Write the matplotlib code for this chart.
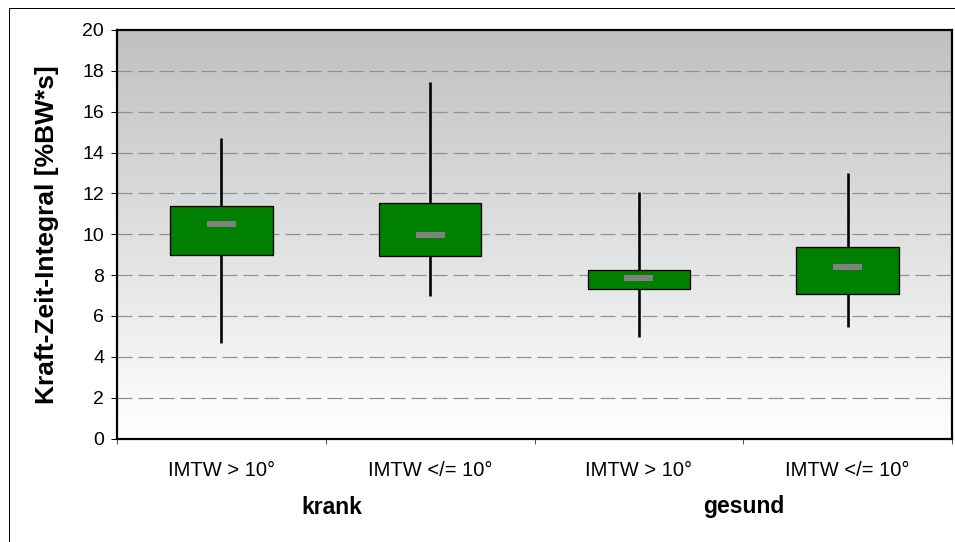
import numpy as np
import matplotlib
matplotlib.use("Agg")
import matplotlib.pyplot as plt
from matplotlib.patches import Rectangle, FancyBboxPatch
from matplotlib.colors import LinearSegmentedColormap
from matplotlib.transforms import blended_transform_factory

plt.rcParams['font.family'] = ['Liberation Sans', 'DejaVu Sans']
plt.rcParams['lines.scale_dashes'] = False

# Per-category statistics
categories = ["IMTW > 10°", "IMTW </= 10°", "IMTW > 10°", "IMTW </= 10°"]
groups = ["krank", "gesund"]
whisker_low = [4.66, 6.96, 4.95, 5.44]
q1 = [8.97, 8.92, 7.30, 7.06]
median = [10.49, 9.95, 7.84, 8.38]
q3 = [11.37, 11.52, 8.24, 9.36]
whisker_high = [14.70, 17.45, 12.06, 13.00]
y_ticks = [0, 2, 4, 6, 8, 10, 12, 14, 16, 18, 20]

PX = 72 / 100  # points per pixel at 100 dpi

fig = plt.figure(figsize=(9.55, 5.42), dpi=100)
ax = fig.add_axes([117 / 955, 1 - 438.5 / 542, (952 - 117) / 955, (438.5 - 30) / 542])

n = len(categories)
ax.set_xlim(-0.5, n - 0.5)
ax.set_ylim(0, 20)

# Vertical grey-to-white gradient background
grad = np.linspace(0, 1, 256).reshape(-1, 1)
cmap = LinearSegmentedColormap.from_list("bg", ["#ffffff", "#c0c0c0"])
ax.imshow(grad, aspect="auto", cmap=cmap, extent=(-0.5, n - 0.5, 0, 20),
          origin="lower", zorder=0, interpolation="bilinear")

# Dashed horizontal grid lines
for y in y_ticks[1:-1]:
    ax.axhline(y, color="#8f8f8f", lw=1.2 * PX, dashes=(15 * PX, 6 * PX), zorder=1)

box_w = 0.49
med_w = 0.14
for i in range(n):
    ax.vlines(i, whisker_low[i], whisker_high[i], color="black", lw=2.6 * PX, zorder=2)
    ax.add_patch(Rectangle((i - box_w / 2, q1[i]), box_w, q3[i] - q1[i],
                           facecolor="#008000", edgecolor="black", lw=1.3 * PX, zorder=3))
    ax.plot([i - med_w / 2, i + med_w / 2], [median[i], median[i]], color="#808080",
            lw=6 * PX, solid_capstyle="butt", zorder=4)

for s in ax.spines.values():
    s.set_linewidth(2.2 * PX)
    s.set_color("black")

ax.set_yticks(y_ticks)
ax.tick_params(axis="y", direction="out", length=6 * PX, width=1 * PX, pad=7 * PX,
               labelsize=14)

# Category boundaries as major ticks; labels placed at category centres
ax.set_xticks(np.arange(-0.5, n, 1.0))
ax.set_xticklabels([])
ax.tick_params(axis="x", which="major", direction="out", length=5 * PX, width=1 * PX,
               color="#555555")
ax.set_xticks(np.arange(n), minor=True)
ax.set_xticklabels(categories, minor=True)
ax.tick_params(axis="x", which="minor", length=0, pad=22 * PX, labelsize=14.5)

trans = blended_transform_factory(ax.transData, fig.transFigure)
for g, name in enumerate(groups):
    ax.text(g * 2 + 0.5 + (0.03 if g == 0 else 0.0), 1 - 507 / 542, name,
            transform=trans, ha="center", va="center", fontsize=16.5, fontweight="bold")

fig.text(47 / 955, 1 - 235 / 542, "Kraft-Zeit-Integral [%BW*s]", rotation=90,
         ha="center", va="center", fontsize=19, fontweight="bold")

# Outer chart frame
fig.patches.append(Rectangle((8.5 / 955, -0.05), 1.1, 1 - 8 / 542 + 0.05,
                             transform=fig.transFigure, fill=False,
                             edgecolor="black", lw=1 * PX))

fig.savefig("out.png", dpi=100)
